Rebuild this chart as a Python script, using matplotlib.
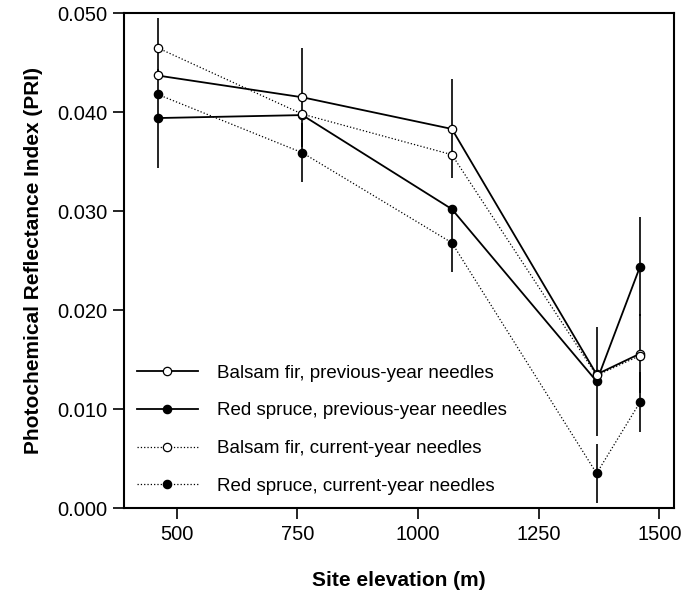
import numpy as np
import matplotlib.pyplot as plt

plt.rcParams['font.family'] = ['Liberation Sans', 'DejaVu Sans']

# Datos
elevacion = [460, 760, 1070, 1370, 1460]

abeto_previo = [0.0437, 0.0415, 0.0383, 0.0135, 0.0156]
picea_previo = [0.0394, 0.0397, 0.0302, 0.0128, 0.0244]
abeto_actual = [0.0465, 0.0398, 0.0357, 0.0134, 0.0154]
picea_actual = [0.0418, 0.0359, 0.0268, 0.0035, 0.0107]

# Errores (solo algunas series tienen barras visibles)
err_abeto_previo = [0.0, 0.005, 0.005, 0.0, 0.004]
err_picea_previo = [0.005, 0.0, 0.0, 0.0055, 0.005]
err_abeto_actual = [0.003, 0.0, 0.0, 0.0, 0.0]
err_picea_actual = [0.0, 0.003, 0.003, 0.003, 0.003]

etiquetas = ['Balsam fir, previous-year needles',
             'Red spruce, previous-year needles',
             'Balsam fir, current-year needles',
             'Red spruce, current-year needles']

fig = plt.figure(figsize=(6.99, 5.97), dpi=100)
ax = fig.add_axes([0.177, 0.149, 0.787, 0.829])

series = [
    (abeto_previo, err_abeto_previo, 'white', '-', 1.3),
    (picea_previo, err_picea_previo, 'black', '-', 1.3),
    (abeto_actual, err_abeto_actual, 'white', ':', 0.9),
    (picea_actual, err_picea_actual, 'black', ':', 0.9),
]

# Barras de error primero
for valores, errores, _, _, _ in series:
    x = [e for e, s in zip(elevacion, errores) if s > 0]
    y = [v for v, s in zip(valores, errores) if s > 0]
    s = [s for s in errores if s > 0]
    ax.errorbar(x, y, yerr=s, fmt='none', ecolor='black', elinewidth=1.2,
                capsize=0, zorder=1)

for (valores, _, relleno, estilo, ancho), etiqueta in zip(series, etiquetas):
    ax.plot(elevacion, valores, linestyle=estilo, linewidth=ancho, color='black',
            marker='o', markersize=6, markerfacecolor=relleno,
            markeredgecolor='black', markeredgewidth=0.9, label=etiqueta,
            zorder=3)

ax.set_xlim(390, 1530)
ax.set_ylim(0.0, 0.050)
ax.set_xticks([500, 750, 1000, 1250, 1500])
ax.set_yticks(np.arange(0, 0.051, 0.01))
ax.yaxis.set_major_formatter(plt.FormatStrFormatter('%.3f'))
ax.tick_params(direction='out', length=8, width=1.2, labelsize=14.5, pad=4)

for lado in ['left', 'bottom', 'top', 'right']:
    ax.spines[lado].set_linewidth(1.5)

ax.set_xlabel('Site elevation (m)', fontsize=15, fontweight='bold', labelpad=20)
ax.set_ylabel('Photochemical Reflectance Index (PRI)', fontsize=15,
              fontweight='bold', labelpad=10)

ax.legend(loc='lower left', frameon=False, fontsize=13.5, handlelength=3.25,
          labelspacing=1.1, handletextpad=1.0, borderaxespad=0.3,
          bbox_to_anchor=(0.0, 0.0))

fig.savefig('out.png', dpi=100)
